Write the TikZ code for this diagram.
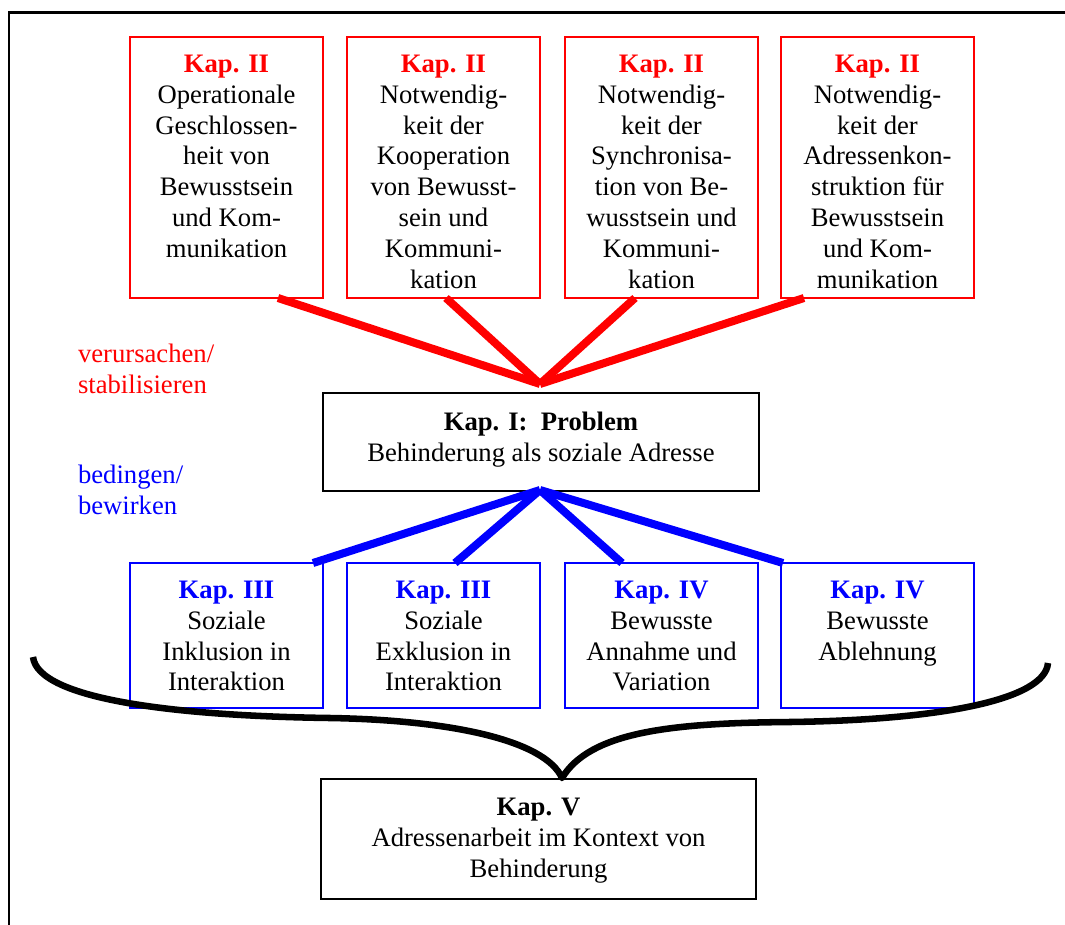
\documentclass[tikz,border=0pt]{standalone}
\usepackage{fontspec}
\setmainfont{Liberation Serif}
\usetikzlibrary{calc}
\definecolor{kapred}{RGB}{255,0,0}
\definecolor{kapblue}{RGB}{0,0,255}
\newcommand{\kapheadred}[1]{\textbf{\textcolor{kapred}{#1}}}
\newcommand{\kapheadblue}[1]{\textbf{\textcolor{kapblue}{#1}}}

\begin{document}
\begin{tikzpicture}[x=0.75pt,y=-0.75pt,
  every node/.style={inner sep=0pt, outer sep=0pt},
  frameline/.style={draw=black, line width=1.6pt},
  boxbase/.style={draw, rectangle, anchor=north west},
  redbox/.style={boxbase, draw=kapred, line width=1.2pt,
    minimum width=144.75pt, minimum height=195.75pt},
  bluebox/.style={boxbase, draw=kapblue, line width=1.2pt,
    minimum width=144.75pt, minimum height=108.75pt},
  blackbox/.style={boxbase, draw=black, line width=1.6pt},
  boxtext/.style={anchor=north, align=center, font=\fontsize{20}{23.1}\selectfont},
  lbl/.style={anchor=north west, align=left, font=\fontsize{20}{23.2}\selectfont},
  cause/.style={draw=kapred, line width=6pt},
  effect/.style={draw=kapblue, line width=6pt},
  brace/.style={draw=black, line width=4.9pt, line join=round}
]
\useasboundingbox (0,0) rectangle (1065,925);

% outer frame (top and left edges)
\draw[frameline] (9,926) -- (9,12.5) -- (1066,12.5);

% chapter II boxes
\node[redbox] (t1) at (130,37) {};
\node[redbox] (t2) at (347,37) {};
\node[redbox] (t3) at (565,37) {};
\node[redbox] (t4) at (781,37) {};
\node[boxtext] (t1x) at ($(t1.north)+(0,18)$)
  {\kapheadred{Kap. II}\\Operationale\\Geschlossen-\\heit von\\Bewusstsein\\und Kom-\\munikation};
\node[boxtext] (t2x) at ($(t2.north)+(0,18)$)
  {\kapheadred{Kap. II}\\Notwendig-\\keit der\\Kooperation\\von Bewusst-\\sein und\\Kommuni-\\kation};
\node[boxtext] (t3x) at ($(t3.north)+(0,18)$)
  {\kapheadred{Kap. II}\\Notwendig-\\keit der\\Synchronisa-\\tion von Be-\\wusstsein und\\Kommuni-\\kation};
\node[boxtext] (t4x) at ($(t4.north)+(0,18)$)
  {\kapheadred{Kap. II}\\Notwendig-\\keit der\\Adressenkon-\\struktion für\\Bewusstsein\\und Kom-\\munikation};

% central problem
\node[blackbox, minimum width=327pt, minimum height=73.5pt] (p) at (323,393) {};
\node[boxtext] (px) at ($(p.north)+(0,19)$)
  {\textbf{Kap. I:\ \ Problem}\\Behinderung als soziale Adresse};

% chapter III / IV boxes
\node[bluebox] (b1) at (130,563) {};
\node[bluebox] (b2) at (347,563) {};
\node[bluebox] (b3) at (565,563) {};
\node[bluebox] (b4) at (781,563) {};
\node[boxtext] (b1x) at ($(b1.north)+(0,18)$)
  {\kapheadblue{Kap. III}\\Soziale\\Inklusion in\\Interaktion};
\node[boxtext] (b2x) at ($(b2.north)+(0,18)$)
  {\kapheadblue{Kap. III}\\Soziale\\Exklusion in\\Interaktion};
\node[boxtext] (b3x) at ($(b3.north)+(0,18)$)
  {\kapheadblue{Kap. IV}\\Bewusste\\Annahme und\\Variation};
\node[boxtext] (b4x) at ($(b4.north)+(0,18)$)
  {\kapheadblue{Kap. IV}\\Bewusste\\Ablehnung};

% chapter V
\node[blackbox, minimum width=326.25pt, minimum height=90pt] (k5) at (321,779) {};
\node[boxtext] (k5x) at ($(k5.north)+(0,19)$)
  {\textbf{Kap. V}\\Adressenarbeit im Kontext von\\Behinderung};

% relation labels
\node[lbl, text=kapred] (lcause) at (78,344) {verursachen/\\stabilisieren};
\node[lbl, text=kapblue] (leffect) at (78,465) {bedingen/\\bewirken};

% red connectors into the problem box
\coordinate (rtip) at (540,384);
\draw[cause] ($(t1.south)+(51.5,0)$) -- (rtip);
\draw[cause] ($(t2.south)+(2.5,0)$) -- (rtip);
\draw[cause] ($(t3.south)+(-26.5,0)$) -- (rtip);
\draw[cause] ($(t4.south)+(-73.5,0)$) -- (rtip);

% blue connectors out of the problem box
\coordinate (btip) at (540,490);
\draw[effect] (btip) -- ($(b1.north)+(86.5,0)$);
\draw[effect] (btip) -- ($(b2.north)+(11.5,0)$);
\draw[effect] (btip) -- ($(b3.north)+(-39.5,0)$);
\draw[effect] (btip) -- ($(b4.north)+(-94.5,0)$);

% brace gathering chapters III and IV into chapter V
\coordinate (braceL) at (33,657);
\coordinate (braceR) at (1048,663);
\coordinate (bracetip) at (562,778);
\draw[brace] (braceL) .. controls (38,700) and (180,716) .. (330,718)
  .. controls (450,720) and (545,740) .. (bracetip)
  .. controls (590,732) and (670,723) .. (790,722)
  .. controls (940,720) and (1045,700) .. (braceR);
\end{tikzpicture}
\end{document}
